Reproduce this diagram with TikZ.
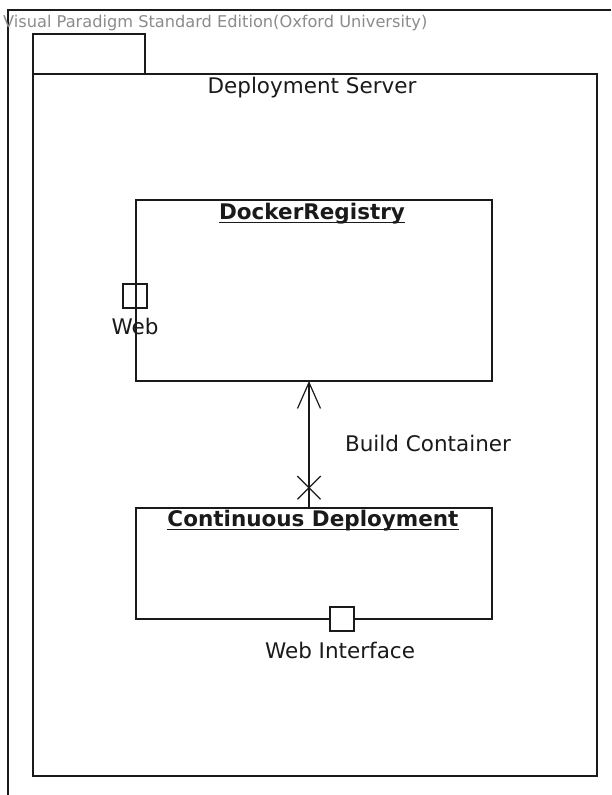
\documentclass[tikz,border=0pt]{standalone}
\usepackage{fontspec}
\setmainfont{DejaVu Sans}
\usetikzlibrary{arrows.meta,shapes.misc}
\definecolor{ink}{HTML}{1A1A1A}
\definecolor{stamp}{HTML}{8C8C8C}
\begin{document}
\begin{tikzpicture}[x=1pt,y=-1pt,
  frame/.style={draw=ink,line width=1.3pt},
  box/.style={draw=ink,line width=1.3pt,fill=white},
  port/.style={draw=ink,line width=1.2pt,minimum size=24pt,inner sep=0pt},
  label/.style={text=ink,font=\fontsize{21.5}{24}\selectfont,inner sep=0pt},
  title/.style={text=ink,font=\bfseries\fontsize{21.5}{24}\selectfont,inner sep=0pt},
  underbar/.style={draw=ink,line width=1.6pt},
  link/.style={draw=ink,line width=1.2pt}]
\useasboundingbox (0,0) rectangle (611,795);
\fill[white] (0,0) rectangle (611,795);

% outer frame (only top and left edges visible)
\draw[frame] (8,795) -- (8,10) -- (611,10);
\node[anchor=west,text=stamp,font=\fontsize{16.2}{18}\selectfont,inner sep=0pt] (stampline) at (3,23) {Visual Paradigm Standard Edition(Oxford University)};

% package Deployment Server
\draw[frame] (33,74) rectangle (145,34);
\draw[frame] (33,74) rectangle (597,776);
\node[label] (pkgname) at (312,88) {Deployment Server};

% DockerRegistry node
\draw[box] (136,200) rectangle (492,381);
\coordinate (drtop) at (309,381);
\node[title] (drname) at (312,214) {DockerRegistry};
\draw[underbar] ([yshift=-2.5pt]drname.base west) -- ([yshift=-2.5pt]drname.base east);
\node[port] (webport) at (135,296) {};
\node[label] (weblbl) at (135,326) {Web};

% Continuous Deployment node
\draw[box] (136,508) rectangle (492,619);
\coordinate (cdtop) at (309,508);
\node[title] (cdname) at (313,521) {Continuous Deployment};
\draw[underbar] ([yshift=-2.5pt]cdname.base west) -- ([yshift=-2.5pt]cdname.base east);
\node[port,fill=white] (wiport) at (342,619) {};
\node[label] (wilbl) at (340,650) {Web Interface};

% dependency Build Container
\draw[link,-{Straight Barb[length=26pt,width=23pt,line width=1.2pt]}] (cdtop) -- (drtop)
  node[pos=0.16,cross out,draw=ink,line width=1.2pt,minimum size=22pt,inner sep=0pt] (xmark) {};
\node[label] (bclbl) at (428,443) {Build Container};
\end{tikzpicture}
\end{document}
